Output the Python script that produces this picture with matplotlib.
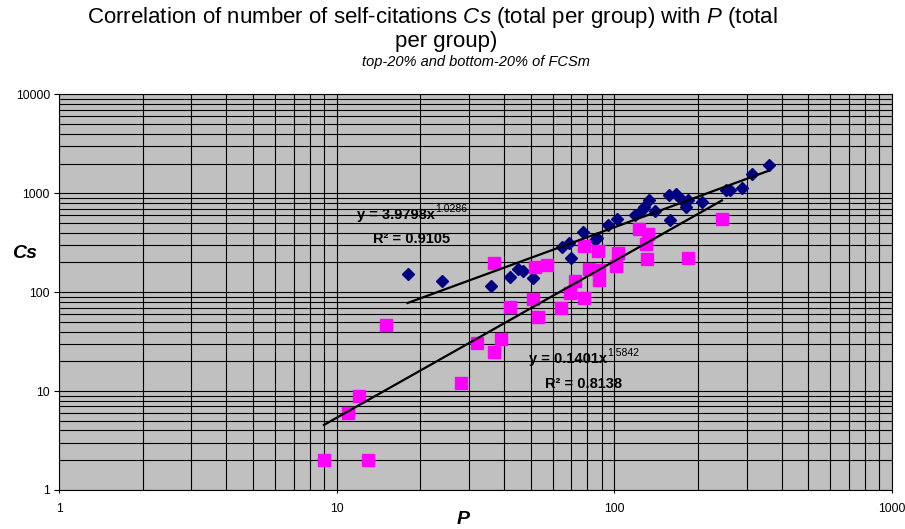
import numpy as np
import matplotlib
matplotlib.use("Agg")
import matplotlib.pyplot as plt
from matplotlib.ticker import LogLocator, NullFormatter, FixedLocator, FixedFormatter

plt.rcParams["font.family"] = ["Liberation Sans", "DejaVu Sans"]
plt.rcParams["mathtext.fontset"] = "custom"
plt.rcParams["mathtext.it"] = "Liberation Sans:italic"
plt.rcParams["mathtext.rm"] = "Liberation Sans"

# top-20% group (navy diamonds)
top_p = [18, 24, 36, 42, 45, 47, 51, 65, 68.5, 70, 77, 85, 86.5, 95, 102, 119,
         126, 128, 133, 140, 157, 159, 167, 174, 181, 183.5, 207, 253, 261, 289, 313, 361]
top_cs = [152, 129, 116, 143, 170, 163, 138, 287, 313, 220, 408, 335, 355, 475, 546, 607,
          684, 727, 850, 658, 970, 542, 993, 884, 727, 850, 817, 1090, 1072, 1131, 1581, 1950]

# bottom-20% group (magenta squares)
bottom_p = [9, 11, 12, 13, 15, 28, 32, 37, 37, 39, 42, 51, 52, 57, 53, 64,
            69, 72, 78, 78, 81, 87, 88, 88, 103, 101, 123, 132, 130, 131, 184, 244]
bottom_cs = [2, 6, 9, 2, 47, 12, 31, 25, 198, 34, 71, 85, 180, 190, 56, 70,
             98, 131, 291, 88, 170, 264, 167, 132, 249, 185, 438, 391, 310, 215, 224, 546]

# power trendlines as printed on the chart: Cs = a * P^b
top_fit = (3.9798, 1.0286, 0.9105)
bottom_fit = (0.1401, 1.5842, 0.8138)

W, H = 905, 529
fig = plt.figure(figsize=(W / 100, H / 100), dpi=100)
ax = fig.add_axes([59 / W, 39 / H, 833 / W, 395.5 / H])
ax.set_facecolor("#c0c0c0")

ax.set_xscale("log")
ax.set_yscale("log")
ax.set_xlim(1, 1000)
ax.set_ylim(1, 10000)

ax.xaxis.set_minor_locator(LogLocator(base=10, subs=range(2, 10)))
ax.yaxis.set_minor_locator(LogLocator(base=10, subs=range(2, 10)))
ax.xaxis.set_minor_formatter(NullFormatter())
ax.yaxis.set_minor_formatter(NullFormatter())
ax.xaxis.set_major_locator(FixedLocator([1, 10, 100, 1000]))
ax.xaxis.set_major_formatter(FixedFormatter(["1", "10", "100", "1000"]))
ax.yaxis.set_major_locator(FixedLocator([1, 10, 100, 1000, 10000]))
ax.yaxis.set_major_formatter(FixedFormatter(["1", "10", "100", "1000", "10000"]))

ax.grid(True, which="both", color="black", lw=0.8)
ax.set_axisbelow(True)
ax.tick_params(which="minor", length=0)
ax.tick_params(which="major", length=3.5, width=0.8, labelsize=8.7)
ax.tick_params(axis="x", which="major", length=2.5, pad=7)
ax.tick_params(axis="y", which="major", pad=3)
for s in ax.spines.values():
    s.set_color("black")
    s.set_linewidth(0.8)

ax.plot(top_p, top_cs, ls="none", marker="D", ms=6.5, color="#000080", mec="#000080", zorder=3)
ax.plot(bottom_p, bottom_cs, ls="none", marker="s", ms=8, color="#ff00ff", mec="#ff00ff", zorder=3)

for p, (a, b, r2) in [(top_p, top_fit), (bottom_p, bottom_fit)]:
    xs = np.geomspace(min(p), max(p), 60)
    ax.plot(xs, a * xs ** b, color="black", lw=1.6, zorder=4)


def eq_label(x, y, a, b, r2):
    t = fig.text(x / W, 1 - y / H, f"y = {a:.4f}x", fontsize=10.5, fontweight="bold",
                 ha="left", va="center")
    ax.annotate(f"{b:.4f}", xy=(1.0, 0.95), xycoords=t, fontsize=7.5,
                ha="left", va="center")
    fig.text((x + 16) / W, 1 - (y + 24) / H, f"R² = {r2:.4f}", fontsize=10.5,
             fontweight="bold", ha="left", va="center")


eq_label(357, 215, *top_fit)
eq_label(529, 359.5, *bottom_fit)

fig.text(432 / W, 1 - 18 / H,
         "Correlation of number of self-citations $Cs$ (total per group) with $P$ (total",
         fontsize=16, ha="center", va="center")
fig.text(446 / W, 1 - 41 / H, "per group)", fontsize=16, ha="center", va="center")
fig.text(476 / W, 1 - 62 / H, "top-20% and bottom-20% of FCSm", fontsize=10.5,
         style="italic", ha="center", va="center")

fig.text(25 / W, 1 - 253 / H, "Cs", fontsize=14, fontweight="bold", style="italic",
         ha="center", va="center")
fig.text(463 / W, 1 - 520 / H, "P", fontsize=14, fontweight="bold", style="italic",
         ha="center", va="center")

fig.savefig("out.png", dpi=100)
